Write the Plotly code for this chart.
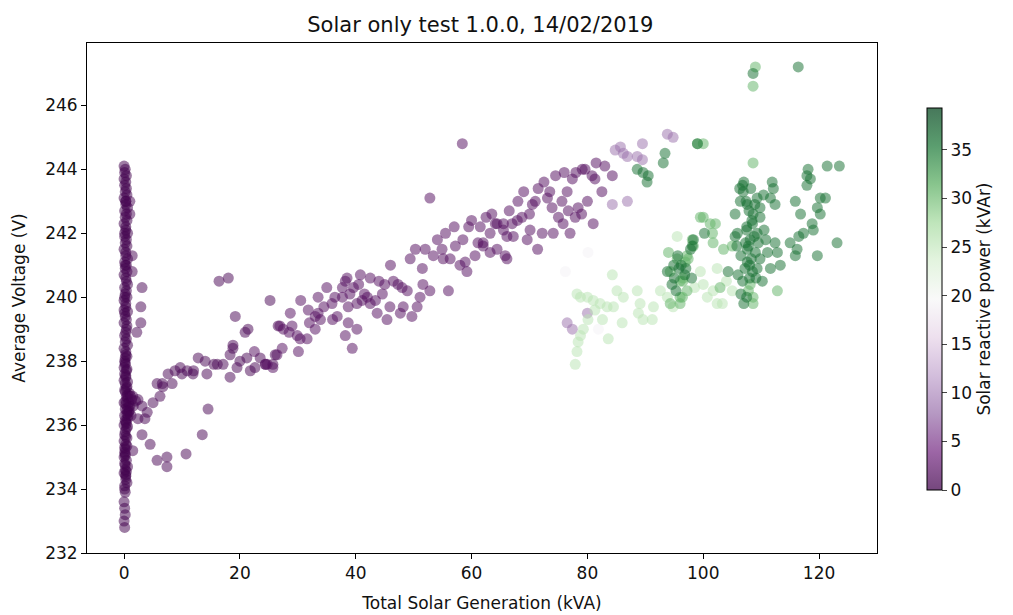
import plotly.graph_objects as go

# (generation kVA, voltage V) pairs, grouped by colour
column = [[0.1, 232.8], [0.0, 233.0], [0.2, 233.2], [0.1, 233.4], [0.0, 233.6], [0.2, 233.9],
          [0.1, 234.1], [0.3, 234.3], [0.0, 234.5], [0.2, 234.6], [0.1, 234.8], [0.4, 234.9],
          [0.0, 235.0], [0.2, 235.1], [0.1, 235.3], [0.3, 235.4], [0.0, 235.5], [0.5, 235.6],
          [0.1, 235.7], [0.2, 235.8], [0.4, 235.9], [0.0, 236.0], [0.3, 236.1], [0.6, 236.2],
          [0.1, 236.3], [0.8, 236.4], [0.2, 236.5], [1.0, 236.6], [0.0, 236.7], [1.3, 236.8],
          [0.4, 236.9], [0.9, 237.0], [0.1, 237.1], [0.5, 237.2], [0.2, 237.3], [0.0, 237.4],
          [0.3, 237.5], [0.1, 237.6], [0.4, 237.7], [0.0, 237.8], [0.2, 237.9], [0.1, 238.0],
          [0.3, 238.2], [0.0, 238.4], [0.2, 238.6], [0.1, 238.8], [0.4, 239.0], [0.0, 239.2],
          [0.2, 239.4], [0.1, 239.5], [0.3, 239.7], [0.0, 239.9], [0.2, 240.1], [0.1, 240.3],
          [0.4, 240.5], [0.0, 240.7], [0.2, 240.9], [0.1, 241.1], [0.3, 241.3], [0.0, 241.5],
          [0.2, 241.7], [0.1, 241.9], [0.3, 242.1], [0.0, 242.3], [0.2, 242.5], [0.1, 242.7],
          [0.3, 242.9], [0.0, 243.1], [0.2, 243.3], [0.1, 243.5], [0.0, 243.7], [0.1, 243.9],
          [0.0, 244.1], [0.3, 236.65], [0.6, 236.85], [0.2, 237.05], [0.5, 236.35],
          [0.1, 235.15], [0.3, 234.45], [0.2, 238.1], [0.1, 240.0], [0.2, 241.0], [0.1, 242.0],
          [0.3, 243.0], [0.0, 239.6], [0.2, 235.25], [0.4, 236.05],
          [0.5, 234.2], [0.3, 234.4], [0.6, 234.7], [0.2, 235.05], [0.5, 235.35], [0.3, 235.65],
          [0.6, 235.95], [0.2, 236.15], [0.5, 236.45], [0.7, 236.55], [0.3, 236.75],
          [0.6, 236.95], [0.4, 237.15], [0.6, 237.35], [0.3, 237.55], [0.5, 237.75],
          [0.2, 237.95], [0.5, 238.15], [0.3, 238.3], [0.6, 238.5], [0.4, 238.7], [0.3, 238.9],
          [0.5, 239.1], [0.4, 239.3], [0.6, 239.55], [0.3, 239.8], [0.5, 240.0], [0.4, 240.2],
          [0.6, 240.4], [0.3, 240.6], [0.5, 240.8], [0.4, 241.0], [0.6, 241.2], [0.3, 241.4],
          [0.5, 241.6], [0.4, 241.8], [0.6, 242.0], [0.3, 242.2], [0.5, 242.4], [0.4, 242.6],
          [0.6, 242.8], [0.3, 243.0], [0.5, 243.2], [0.4, 243.4], [0.3, 243.6], [0.4, 243.8],
          [0.2, 244.0], [0.7, 236.3], [0.8, 236.7], [1.1, 236.9], [0.9, 236.45], [1.6, 236.6],
          [2.0, 236.75], [1.2, 236.3], [0.1, 234.0], [0.4, 234.55], [0.2, 234.75]]

curve = [[1.5, 236.9], [2.4, 236.8], [3.1, 236.6], [4.0, 236.4], [3.6, 236.2], [3.1, 235.7],
         [4.5, 235.4], [1.5, 235.2], [5.7, 234.9], [7.4, 235.0], [7.4, 234.7], [10.7, 235.1],
         [13.5, 235.7], [14.5, 236.5], [5.0, 236.7], [6.2, 236.9], [6.6, 237.3], [7.6, 237.6],
         [8.8, 237.7], [9.7, 237.8], [10.9, 237.7], [11.9, 237.6], [12.8, 238.1], [14.0, 238.0],
         [14.3, 237.6], [16.1, 237.9], [17.1, 237.9], [18.3, 238.2], [18.8, 238.4], [18.3, 237.5],
         [19.5, 237.8], [21.2, 238.1], [21.8, 237.7], [22.6, 237.8], [24.4, 237.9], [25.7, 237.9],
         [26.1, 238.2], [5.7, 237.3], [6.7, 237.2], [8.3, 237.3], [2.4, 236.2], [3.1, 240.3],
         [2.9, 239.7], [2.9, 239.2], [2.2, 238.9], [1.4, 241.3], [1.4, 240.8], [1.0, 243.0],
         [1.0, 242.6], [16.4, 240.5], [18.0, 240.6], [25.2, 239.9], [19.2, 239.4], [20.9, 238.9],
         [21.4, 239.0], [18.8, 238.5], [26.6, 239.1], [10.0, 237.6], [12.0, 237.7],
         [15.5, 237.9], [20.0, 238.0], [23.5, 238.1]]

band = [[24.7, 237.9], [25.7, 237.8], [24.4, 237.9], [26.4, 238.2], [27.3, 238.4], [26.9, 239.1],
        [28.7, 239.5], [29.0, 239.1], [29.9, 238.8], [30.1, 238.3], [30.4, 238.7], [31.6, 238.7],
        [31.8, 239.6], [33.0, 239.4], [33.5, 239.5], [33.5, 240.0], [33.9, 239.3], [33.0, 239.0],
        [35.9, 239.8], [36.4, 240.0], [37.7, 240.3], [38.5, 240.6], [38.2, 240.5], [37.7, 240.0],
        [38.7, 239.7], [38.7, 239.2], [38.2, 238.8], [39.4, 238.4], [40.2, 239.0], [39.6, 240.3],
        [40.8, 240.7], [40.2, 239.8], [41.1, 239.9], [42.0, 240.0], [42.5, 239.8], [43.4, 239.9],
        [43.7, 239.5], [44.6, 240.1], [45.4, 239.3], [45.9, 239.7], [46.5, 240.5], [47.3, 240.4],
        [48.0, 240.3], [48.2, 239.7], [47.7, 239.5], [48.9, 240.2], [49.7, 239.4], [50.6, 239.7],
        [51.1, 240.0], [51.6, 240.4], [52.8, 240.2], [52.8, 243.1], [58.4, 244.8], [49.4, 241.2],
        [50.3, 241.5], [51.5, 240.9], [52.0, 241.5], [53.4, 241.3], [54.1, 241.8], [54.9, 241.5],
        [55.1, 241.2], [56.0, 240.2], [56.3, 241.2], [57.2, 241.6], [58.0, 241.0], [59.2, 240.8],
        [58.9, 241.1], [60.6, 241.3], [61.1, 241.7], [62.0, 241.6], [63.2, 242.0], [64.1, 242.3],
        [64.4, 241.5], [65.5, 242.3], [65.8, 241.3], [66.1, 241.9], [62.0, 241.7], [63.2, 241.4],
        [64.4, 242.3], [65.5, 242.1], [66.1, 241.2], [67.2, 241.9], [67.9, 242.4], [68.7, 242.5],
        [69.6, 241.8], [70.1, 242.1], [70.5, 242.9], [71.4, 241.5], [71.5, 243.4], [72.2, 242.0],
        [73.1, 243.1], [73.9, 242.8], [74.1, 242.0], [75.0, 242.5], [75.6, 243.0], [75.8, 242.3],
        [76.5, 243.3], [76.7, 242.7], [77.0, 242.0], [77.4, 243.7], [77.9, 242.5], [78.4, 242.8],
        [79.1, 244.0], [79.6, 244.0], [80.0, 243.0], [80.8, 243.8], [81.3, 243.7], [81.0, 242.3],
        [84.3, 243.8], [35.0, 240.3], [44.0, 240.5], [46.0, 241.0], [55.5, 242.0], [57.0, 242.2],
        [60.0, 242.4], [68.0, 243.0], [72.5, 243.6], [42.5, 240.6], [30.5, 239.9], [22.5, 238.3],
        [36.8, 239.4], [61.5, 242.2], [69.0, 243.3], [74.5, 243.8], [58.5, 241.8], [59.5, 242.2],
        [62.5, 242.5], [63.5, 242.6], [66.5, 242.7], [67.0, 242.3], [70.0, 242.6], [71.0, 243.0],
        [73.5, 243.3], [76.0, 243.9], [78.0, 243.9], [81.5, 244.2], [83.0, 244.1], [82.5, 243.3],
        [79.0, 242.6], [40.5, 240.4], [39.0, 240.1], [41.5, 240.1], [45.0, 240.4], [27.5, 239.0],
        [32.0, 239.2], [34.5, 239.7], [36.0, 239.3], [28.5, 238.9]]

light_purple = [[84.8, 244.6], [85.7, 244.7], [86.2, 244.5], [86.9, 244.4], [88.6, 244.4],
                [89.5, 244.3], [89.5, 244.8], [84.3, 242.9], [86.9, 243.0], [93.8, 245.1],
                [94.8, 245.0], [76.5, 239.2], [77.4, 239.0], [80.0, 239.5]]

near_white = [[80.1, 241.4], [76.2, 240.8], [81.9, 239.0]]

light_green = [[78.2, 240.1], [78.8, 240.0], [80.0, 240.0], [81.0, 239.9], [81.3, 239.6],
               [82.2, 239.8], [83.4, 239.7], [84.3, 240.7], [84.5, 239.7], [85.1, 240.2],
               [86.2, 240.0], [80.1, 239.3], [79.3, 239.0], [78.8, 238.8], [78.4, 238.6],
               [78.2, 238.3], [77.9, 237.9], [82.6, 239.3], [83.6, 238.7], [86.0, 239.2],
               [88.6, 240.2], [89.1, 239.8], [88.8, 239.5], [89.6, 239.3], [91.2, 239.3],
               [91.4, 239.7], [92.6, 240.2], [93.8, 240.0], [95.5, 241.9], [94.8, 239.7],
               [102.4, 240.9], [99.5, 240.8], [100.0, 240.4], [101.7, 240.2], [105.0, 240.2],
               [102.4, 239.8], [103.3, 239.8], [100.7, 240.0], [98.5, 240.3], [104.0, 240.5]]

mid_green = [[94.3, 240.8], [94.0, 241.4], [95.5, 241.2], [96.0, 240.5], [97.2, 240.2],
             [96.5, 240.6], [98.1, 241.8], [98.3, 241.6], [97.4, 241.2], [96.0, 240.0],
             [94.3, 239.8], [99.5, 242.5], [99.0, 244.8], [100.0, 244.8], [108.6, 244.2],
             [108.6, 246.6], [109.0, 247.2], [102.9, 240.3], [108.1, 240.4], [107.8, 240.2],
             [108.6, 240.0], [108.6, 239.8], [112.8, 240.2], [96.0, 239.8], [101.7, 241.7],
             [103.5, 241.5], [105.0, 241.6], [97.2, 241.3], [96.9, 241.1], [96.5, 240.5],
             [96.4, 240.0], [100.0, 242.5], [101.2, 242.3], [102.1, 242.3], [101.6, 242.0]]

dark_green = [[88.6, 244.0], [89.6, 243.9], [90.5, 243.8], [90.3, 243.6], [93.4, 244.5],
              [93.1, 244.2], [99.0, 244.8], [108.6, 247.0], [116.4, 247.2], [121.4, 244.1],
              [123.5, 244.1], [118.1, 244.0], [117.9, 243.8], [118.5, 243.7], [117.9, 243.5],
              [111.9, 243.6], [112.1, 243.4], [111.6, 243.1], [112.4, 242.9], [106.9, 243.3],
              [106.4, 243.0], [107.6, 242.9], [109.3, 243.1], [110.4, 243.2], [120.2, 243.1],
              [121.1, 243.1], [119.7, 242.8], [120.2, 242.6], [115.9, 243.0], [116.8, 242.6],
              [105.5, 242.6], [108.6, 242.6], [109.8, 242.5], [118.8, 242.3], [119.0, 242.1],
              [117.3, 242.0], [105.9, 242.0], [105.5, 241.9], [108.5, 242.3], [109.3, 242.0],
              [98.3, 241.8], [98.1, 241.6], [97.8, 241.5], [107.3, 241.7], [108.1, 241.8],
              [109.5, 241.7], [112.4, 241.7], [115.0, 241.7], [116.2, 241.5], [115.9, 241.3],
              [123.1, 241.7], [107.6, 241.5], [109.0, 241.4], [111.1, 241.4], [112.8, 241.4],
              [119.7, 241.3], [107.6, 241.1], [109.3, 240.9], [111.6, 240.9], [113.3, 241.0],
              [104.3, 240.8], [106.0, 240.7], [108.5, 240.8], [93.8, 240.8], [94.6, 240.4],
              [107.5, 242.2], [108.0, 241.0], [106.8, 240.5], [109.8, 241.2], [116.5, 241.9],
              [106.5, 241.3], [110.5, 242.1], [107.0, 243.6], [108.2, 243.4], [100.2, 242.0],
              [107.0, 239.8], [107.5, 240.0], [108.0, 240.6], [107.2, 240.9], [108.3, 241.2],
              [107.8, 241.6], [108.8, 241.9], [107.5, 242.1], [108.4, 242.4], [107.9, 242.7],
              [108.9, 242.9], [107.4, 243.0], [106.3, 243.4], [106.8, 243.5], [109.1, 240.6],
              [106.5, 240.1], [110.2, 240.5], [110.8, 241.8], [109.8, 242.8], [105.8, 241.6],
              [95.0, 240.6], [95.8, 240.9], [96.2, 241.0], [96.8, 240.7], [95.3, 240.2],
              [97.0, 240.9], [98.0, 240.6], [95.6, 241.3], [94.9, 241.0]]

# reactive power (kVAr)
q_column, q_curve, q_band = 0.3, 0.8, 1.5
q_light_purple, q_near_white = 8, 19
q_light_green, q_mid_green, q_dark_green = 26, 31, 36

groups = [(column, q_column), (curve, q_curve), (band, q_band),
          (light_purple, q_light_purple), (near_white, q_near_white),
          (light_green, q_light_green), (mid_green, q_mid_green),
          (dark_green, q_dark_green)]

prgn = ['#40004b', '#762a83', '#9970ab', '#c2a5cf', '#e7d4e8', '#f7f7f7',
        '#d9f0d3', '#a6dba0', '#5aae61', '#1b7837', '#00441b']


def fade(hex_col, a=0.72):
    r, g, b = (int(hex_col[i:i + 2], 16) for i in (1, 3, 5))
    return 'rgba(%d,%d,%d,%.2f)' % (r, g, b, a)


scale = [[i / 10, fade(c)] for i, c in enumerate(prgn)]

fig = go.Figure()
for pts, q in groups:
    fig.add_trace(go.Scatter(
        x=[p[0] for p in pts], y=[p[1] for p in pts], mode='markers',
        marker=dict(size=11, color=[q] * len(pts), coloraxis='coloraxis',
                    opacity=0.72, line=dict(width=0)),
        showlegend=False))

font = 'DejaVu Sans, sans-serif'
axis = dict(showline=True, linecolor='black', linewidth=1, mirror=True, ticks='outside',
            ticklen=5, tickcolor='black', showgrid=False, zeroline=False, automargin=False,
            tickfont=dict(size=17, color='#111'))

# the page keeps an 8px body margin, so the figure is drawn 8px smaller and shifted
fig.update_layout(
    width=1005, height=607, paper_bgcolor='white', plot_bgcolor='white',
    font=dict(family=font, color='#111'),
    margin=dict(l=79, r=136, t=35, b=62, autoexpand=False),
    title=dict(text='Solar only test 1.0.0, 14/02/2019', x=0.47, xanchor='center',
               y=0.972, yanchor='middle', font=dict(size=21)),
    xaxis=dict(axis, range=[-6.4, 130], tickvals=[0, 20, 40, 60, 80, 100, 120],
               title=dict(text='Total Solar Generation (kVA)', font=dict(size=17), standoff=14)),
    yaxis=dict(axis, range=[232, 247.95], tickvals=list(range(232, 247, 2)),
               title=dict(text='Average Voltage (V)', font=dict(size=17), standoff=15)),
    coloraxis=dict(colorscale=scale, cmin=0, cmax=39.3,
                   colorbar=dict(x=1.063, xanchor='left', y=0.498, len=0.749, thickness=15,
                                 xpad=0, ypad=0,
                                 outlinewidth=1, outlinecolor='black', ticks='outside',
                                 ticklen=5, tickvals=[0, 5, 10, 15, 20, 25, 30, 35],
                                 tickfont=dict(size=17),
                                 title=dict(text='Solar reactive power (kVAr)', side='right',
                                            font=dict(size=17)))),
)

fig.write_html("out.html")
